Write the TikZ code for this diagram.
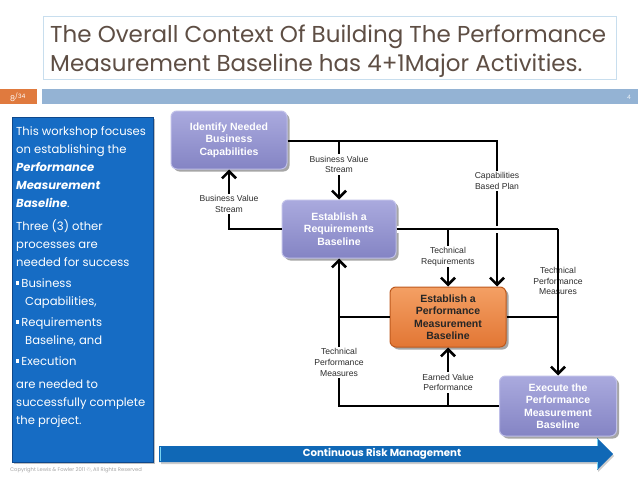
\documentclass[tikz,border=0pt]{standalone}
\usepackage{fontspec}
\setmainfont{Liberation Sans}
\newfontfamily\gothic{Poppins}
\usetikzlibrary{arrows.meta,shadows}
\definecolor{titlec}{RGB}{94,78,68}
\definecolor{titlebox}{RGB}{200,222,238}
\definecolor{hdrorange}{RGB}{224,122,62}
\definecolor{hdrblue}{RGB}{148,179,212}
\definecolor{panelblue}{RGB}{22,108,196}
\definecolor{paneledge}{RGB}{14,72,140}
\definecolor{arrowblue}{RGB}{16,104,182}
\definecolor{arrowedge}{RGB}{120,210,240}
\definecolor{purpletop}{RGB}{170,170,222}
\definecolor{purplebot}{RGB}{132,132,196}
\definecolor{purpleedge}{RGB}{190,190,232}
\definecolor{orangetop}{RGB}{244,160,100}
\definecolor{orangebot}{RGB}{226,118,52}
\definecolor{orangeedge}{RGB}{190,90,30}
\definecolor{labelc}{RGB}{45,45,45}
\definecolor{copyc}{RGB}{165,165,165}
\tikzset{
  procbox/.style={rounded corners=6pt, minimum width=116pt, minimum height=58pt,
    inner sep=2pt, align=center, font=\fontsize{10.5}{12.5}\selectfont\bfseries,
    drop shadow={shadow xshift=2.5pt, shadow yshift=-2.5pt, fill=black, opacity=0.35}},
  purplebox/.style={procbox, top color=purpletop, bottom color=purplebot, draw=purpleedge, line width=1pt, text=white},
  orangebox/.style={procbox, top color=orangetop, bottom color=orangebot, draw=orangeedge, line width=1pt, text=black!85},
  flowlabel/.style={align=center, font=\fontsize{8.6}{10.8}\selectfont, text=labelc, inner sep=1.5pt},
  whitelabel/.style={flowlabel, fill=white},
  thickline/.style={line width=2.8pt},
  thinline/.style={line width=1.2pt},
  barb/.style={-{Straight Barb[length=7pt,width=14pt,line width=2.6pt]}},
  paneltext/.style={anchor=base west, inner sep=0pt, text=white, font=\gothic\fontsize{11.6}{14}\selectfont},
  titletext/.style={anchor=base west, inner sep=0pt, text=titlec, font=\gothic\fontsize{23}{26}\selectfont},
}
\newcommand{\sqbullet}{\raisebox{2.5pt}{\rule{3.2pt}{3.2pt}}\hspace{2pt}}
\begin{document}
\begin{tikzpicture}[x=1pt,y=-1pt]
\useasboundingbox (0,0) rectangle (638,479);
\fill[white] (0,0) rectangle (638,479);

% title
\draw[titlebox, line width=0.8pt] (43,16) rectangle (616,79);
\node[titletext] (t1) at (50,42) {The Overall Context Of Building The Performance};
\node[titletext] (t2) at (50,71) {Measurement Baseline has 4+1Major Activities.};

% header bar
\fill[hdrorange] (0,89) rectangle (37,104);
\fill[hdrblue] (42,89) rectangle (638,104);
\node[text=white, font=\gothic\fontsize{8}{9}\selectfont, inner sep=0pt] (pg) at (18,97) {8\textsuperscript{/34}};
\node[text=white!80!hdrblue, font=\gothic\fontsize{6}{7}\selectfont, inner sep=0pt] (sl) at (629,97) {4};

% left panel
\fill[black, opacity=0.25] (14,119) rectangle (155,464);
\filldraw[fill=panelblue, draw=paneledge, line width=1pt] (12,117) rectangle (153,462);
\node[paneltext] (p1) at (16,135) {This workshop focuses};
\node[paneltext] (p2) at (16,153) {on establishing the};
\node[paneltext] (p3) at (16,171) {\bfseries\itshape Performance};
\node[paneltext] (p4) at (16,189) {\bfseries\itshape Measurement};
\node[paneltext] (p5) at (16,207) {{\bfseries\itshape Baseline}.};
\node[paneltext] (p6) at (16,230) {Three (3) other};
\node[paneltext] (p7) at (16,248) {processes are};
\node[paneltext] (p8) at (16,266) {needed for success};
\node[paneltext] (p9) at (16,287) {\sqbullet Business};
\node[paneltext] (p10) at (25,305) {Capabilities,};
\node[paneltext] (p11) at (16,326) {\sqbullet Requirements};
\node[paneltext] (p12) at (25,344) {Baseline, and};
\node[paneltext] (p13) at (16,365) {\sqbullet Execution};
\node[paneltext] (p14) at (16,388) {are needed to};
\node[paneltext] (p15) at (16,406) {successfully complete};
\node[paneltext] (p16) at (16,424) {the project.};

% risk arrow
\fill[black, opacity=0.2] (161,448) -- (598,448) -- (598,440) -- (614,456) -- (598,472) -- (598,464) -- (161,464) -- cycle;
\fill[arrowblue] (159,446) -- (597,446) -- (597,438) -- (613,454) -- (597,470) -- (597,462) -- (159,462) -- cycle;
\draw[arrowedge, line width=1pt] (160,447) -- (160,461);
\draw[arrowedge, line width=0.8pt] (597.5,446) -- (597.5,439) (597.5,462) -- (597.5,469);
\node[text=white, font=\gothic\bfseries\fontsize{10.2}{12}\selectfont, inner sep=0pt] (risk) at (382,454) {Continuous Risk Management};

% copyright
\node[anchor=west, text=copyc, font=\gothic\fontsize{5.2}{6}\selectfont, inner sep=0pt] (copy) at (10,470) {Copyright Lewis \& Fowler 2011 ©, All Rights Reserved};

% process boxes
\node[purplebox] (ident) at (229,140) {Identify Needed\\Business\\Capabilities};
\node[purplebox, minimum width=114pt] (req) at (339,229) {Establish a\\Requirements\\Baseline};
\node[orangebox, minimum height=60pt] (pmb) at (448,317) {Establish a\\Performance\\Measurement\\Baseline};
\node[purplebox, minimum height=60pt, minimum width=117pt] (exec) at (558,406) {Execute the\\Performance\\Measurement\\Baseline};

\coordinate (cbp) at (497,141);

% thick connectors
\draw[thickline, barb] (ident.east |- cbp) -- (cbp) -- (cbp |- pmb.north);
\draw[thickline, barb] (req.north |- cbp) -- (req.north);
\draw[thickline, preaction={draw=white, line width=7pt}] (req.east) -- (req.east -| exec.north);
\draw[thickline, barb] (req.east -| exec.north) -- (exec.north);
\draw[thickline, barb] (pmb.north |- req.east) -- (pmb.north);
\draw[thickline] (pmb.east) -- (pmb.east -| exec.north);

% thin connectors
\draw[thinline, barb] (req.west) -- (req.west -| ident.south) -- (ident.south);
\draw[thinline, barb] (exec.west) -- (exec.west -| req.south) -- (req.south);
\draw[thinline] (pmb.west) -- (pmb.west -| req.south);
\draw[thinline, barb] (pmb.south |- exec.west) -- (pmb.south);

% labels
\node[whitelabel] (l1) at (339,164.5) {Business Value\\Stream};
\node[whitelabel] (l2) at (497,181) {Capabilities\\Based Plan};
\node[whitelabel] (l3) at (229,204) {Business Value\\Stream};
\node[whitelabel] (l4) at (448,256.5) {Technical\\Requirements};
\node[flowlabel] (l5) at (558,281) {Technical\\Performance\\Measures};
\draw[thickline] (558,265) -- (558,297);
\node[whitelabel] (l6) at (339,362.5) {Technical\\Performance\\Measures};
\node[whitelabel] (l7) at (448,382.5) {Earned Value\\Performance};
\end{tikzpicture}
\end{document}
